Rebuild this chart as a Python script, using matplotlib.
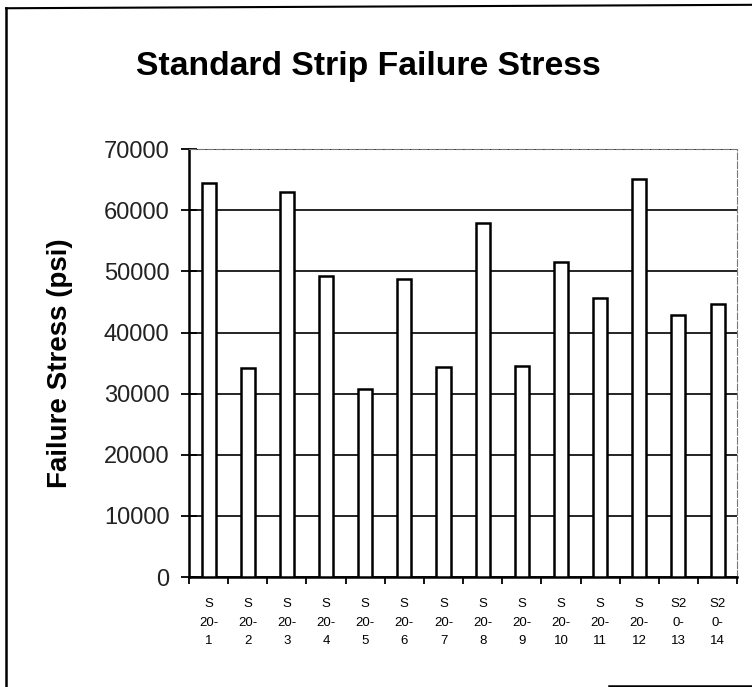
import numpy as np
import matplotlib
matplotlib.use("Agg")
from matplotlib import pyplot as plt
from matplotlib.lines import Line2D

plt.rcParams["font.family"] = ["Liberation Sans", "DejaVu Sans"]

# specimen labels and failure stresses [psi]
labels = ["S\n20-\n1", "S\n20-\n2", "S\n20-\n3", "S\n20-\n4", "S\n20-\n5",
          "S\n20-\n6", "S\n20-\n7", "S\n20-\n8", "S\n20-\n9", "S\n20-\n10",
          "S\n20-\n11", "S\n20-\n12", "S2\n0-\n13", "S2\n0-\n14"]
stress = [64500, 34200, 63000, 49200, 30800, 48800, 34400,
          57900, 34500, 51500, 45700, 65100, 42800, 44600]
yticks = [0, 10000, 20000, 30000, 40000, 50000, 60000, 70000]

fig = plt.figure(figsize=(7.52, 6.87), dpi=100)
ax = fig.add_axes([0.2513, 0.160, 0.729, 0.623])

x = np.arange(len(stress))
ax.bar(x, stress, width=0.36, color="white", edgecolor="black", linewidth=1.8, zorder=3)

ax.set_xlim(-0.5, len(stress) - 0.5)
ax.set_ylim(0, 70000)
ax.set_yticks(yticks)
ax.set_yticklabels([str(v) for v in yticks], fontsize=17, color="#222222")
ax.yaxis.grid(True, color="black", lw=1.2, zorder=1)
ax.tick_params(axis="y", direction="inout", length=12, width=1.3, pad=8)

# category boundary ticks, labels centred under each bar
ax.set_xticks(np.arange(-0.5, len(stress), 1.0))
ax.set_xticklabels([])
ax.set_xticks(x, minor=True)
ax.set_xticklabels(labels, minor=True, fontsize=9.5, linespacing=1.75)
ax.tick_params(axis="x", which="major", direction="out", length=5, width=1.3)
ax.tick_params(axis="x", which="minor", length=0, pad=15)

for side in ("left", "bottom"):
    ax.spines[side].set_linewidth(1.8)
for side in ("top", "right"):
    ax.spines[side].set_color("#777777")
    ax.spines[side].set_linewidth(0.8)
    ax.spines[side].set_linestyle((0, (6, 2)))

ax.set_ylabel("Failure Stress (psi)", fontsize=20, fontweight="bold", labelpad=22)
fig.text(0.49, 0.903, "Standard Strip Failure Stress", ha="center", va="center",
         fontsize=24.3, fontweight="bold")

# outer chart frame (left, top, partial bottom)
fig.add_artist(Line2D([0.008, 0.008], [0.0, 0.988], color="black", lw=1.8))
fig.add_artist(Line2D([0.008, 1.0], [0.988, 0.993], color="black", lw=1.5))
fig.add_artist(Line2D([0.81, 1.0], [0.002, 0.002], color="black", lw=1.8))

fig.savefig("out.png", dpi=100)
